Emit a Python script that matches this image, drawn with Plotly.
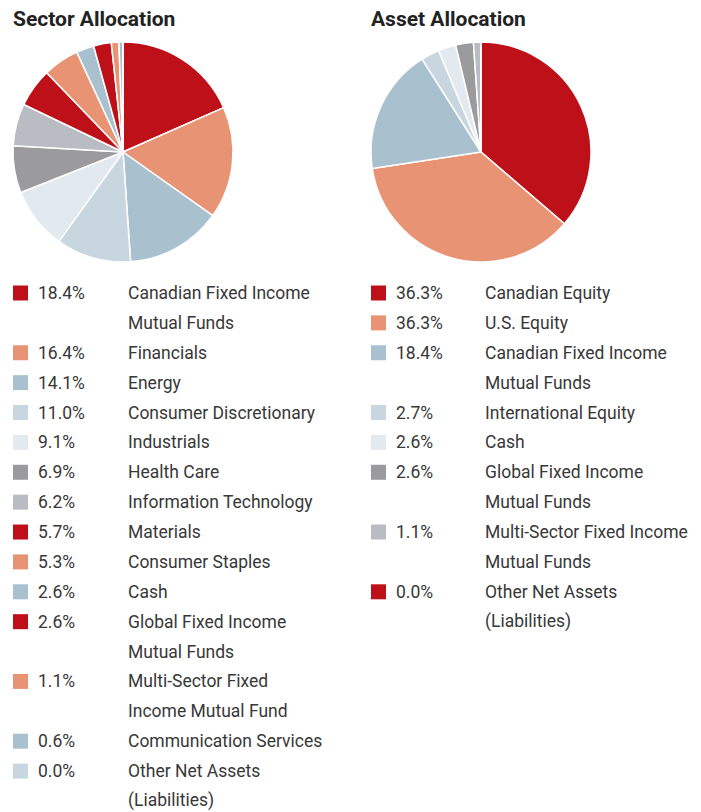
import plotly.graph_objects as go

# Portfolio breakdowns (percent of net assets)
sector_names = [
    "Canadian Fixed Income\nMutual Funds", "Financials", "Energy",
    "Consumer Discretionary", "Industrials", "Health Care",
    "Information Technology", "Materials", "Consumer Staples", "Cash",
    "Global Fixed Income\nMutual Funds", "Multi-Sector Fixed\nIncome Mutual Fund",
    "Communication Services", "Other Net Assets\n(Liabilities)",
]
sector_values = [18.4, 16.4, 14.1, 11.0, 9.1, 6.9, 6.2, 5.7, 5.3, 2.6, 2.6, 1.1, 0.6, 0.0]

asset_names = [
    "Canadian Equity", "U.S. Equity", "Canadian Fixed Income\nMutual Funds",
    "International Equity", "Cash", "Global Fixed Income\nMutual Funds",
    "Multi-Sector Fixed Income\nMutual Funds", "Other Net Assets\n(Liabilities)",
]
asset_values = [36.3, 36.3, 18.4, 2.7, 2.6, 2.6, 1.1, 0.0]

RED, SALMON, BLUE, LBLUE, XLBLUE, GREY, LGREY = (
    "#BE1019", "#E89374", "#A9C1CF", "#C8D6E0", "#E2E9EF", "#9B9B9D", "#BABCC3")
sector_colors = [RED, SALMON, BLUE, LBLUE, XLBLUE, GREY, LGREY,
                 RED, SALMON, BLUE, RED, SALMON, BLUE, LBLUE]
asset_colors = [RED, SALMON, BLUE, LBLUE, XLBLUE, GREY, LGREY, RED]

W, H = 701, 812
FONT = "Roboto"
TEXT = "#383838"
ROW0, PITCH = 293, 29.88

fig = go.Figure()


def px_x(x):
    return x / W


def px_y(y):
    return 1 - y / H


def add_panel(title, names, values, colors, left, pct_x, name_x):
    cx, cy, r = left + 110, 152, 110
    fig.add_trace(go.Pie(
        labels=[n.replace("\n", " ") for n in names], values=values,
        marker=dict(colors=colors, line=dict(color="white", width=1.5)),
        sort=False, direction="clockwise", rotation=0,
        textinfo="none", hoverinfo="label+percent", showlegend=False,
        domain=dict(x=[px_x(cx - r), px_x(cx + r)], y=[px_y(cy + r), px_y(cy - r)]),
    ))
    fig.add_annotation(
        text="<b>" + title + "</b>", x=px_x(left - 2), y=px_y(19), xref="paper", yref="paper",
        xanchor="left", yanchor="middle", showarrow=False,
        font=dict(family=FONT, size=21, color="#222222"))
    row = 0
    for name, val, col in zip(names, values, colors):
        yc = ROW0 + PITCH * row
        fig.add_shape(type="rect", xref="paper", yref="paper",
                      x0=px_x(left), x1=px_x(left + 15),
                      y0=px_y(yc + 7.5), y1=px_y(yc - 7.5),
                      fillcolor=col, line=dict(width=0))
        fig.add_annotation(
            text=f"{val:.1f}%", x=px_x(pct_x), y=px_y(yc), xref="paper", yref="paper",
            xanchor="left", yanchor="middle", showarrow=False,
            font=dict(family=FONT, size=17.5, color=TEXT))
        for line in name.split("\n"):
            yc = ROW0 + PITCH * row
            fig.add_annotation(
                text=line, x=px_x(name_x), y=px_y(yc), xref="paper", yref="paper",
                xanchor="left", yanchor="middle", showarrow=False,
                font=dict(family=FONT, size=17.5, color=TEXT))
            row += 1


add_panel("Sector Allocation", sector_names, sector_values, sector_colors, 13, 36, 126)
add_panel("Asset Allocation", asset_names, asset_values, asset_colors, 371, 394, 483)

fig.update_layout(
    width=W, height=H, margin=dict(l=0, r=0, t=0, b=0),
    paper_bgcolor="white", plot_bgcolor="white",
)
fig.write_html("out.html")
